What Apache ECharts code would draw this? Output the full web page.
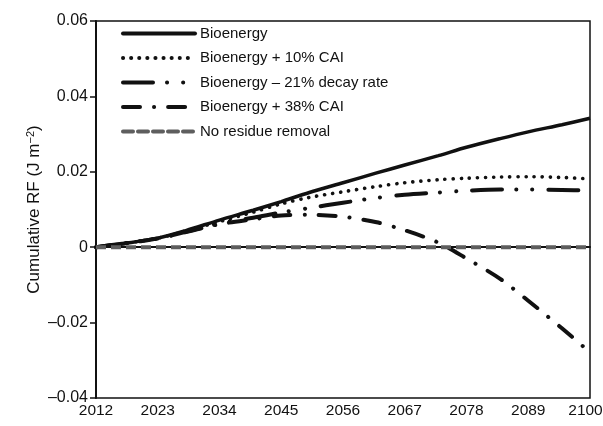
<!DOCTYPE html>
<html>
<head>
<meta charset="utf-8">
<script src="https://cdn.jsdelivr.net/npm/echarts@6/dist/echarts.min.js"></script>
<style>
html,body{margin:0;padding:0;background:#fff;}
#chart{width:603px;height:426px;}
</style>
</head>
<body>
<div id="chart"></div>
<script>
const years = [2012, 2017, 2023, 2028, 2034, 2040, 2045, 2050, 2056, 2062, 2067, 2073, 2078, 2084, 2089, 2095, 2100];
const bioenergy   = [0, 0.0010, 0.0024, 0.0044, 0.0072, 0.0098, 0.0121, 0.0145, 0.0171, 0.0197, 0.0218, 0.0243, 0.0265, 0.0288, 0.0306, 0.0325, 0.0342];
const cai10       = [0, 0.0010, 0.0024, 0.0043, 0.0068, 0.0093, 0.0115, 0.0132, 0.0147, 0.0161, 0.0171, 0.0179, 0.0183, 0.0186, 0.0187, 0.0185, 0.0181];
const decay21     = [0, 0.0010, 0.0023, 0.0041, 0.0063, 0.0078, 0.0092, 0.0104, 0.0118, 0.0131, 0.0139, 0.0145, 0.0150, 0.0153, 0.0153, 0.0152, 0.0150];
const cai38       = [0, 0.0010, 0.0023, 0.0040, 0.0061, 0.0074, 0.0084, 0.0086, 0.0081, 0.0066, 0.0045, 0.0012, -0.0030, -0.0084, -0.0142, -0.0215, -0.0279];
const noRemoval   = [0, 0, 0, 0, 0, 0, 0, 0, 0, 0, 0, 0, 0, 0, 0, 0, 0];
const seriesNames = ['Bioenergy', 'Bioenergy + 10% CAI', 'Bioenergy \u2013 21% decay rate', 'Bioenergy + 38% CAI', 'No residue removal'];
const startYear = 2012;
const xTickStep = 11;
const xSpan = 88;

const pts = arr => years.map((y, i) => [y - startYear, arr[i]]);
const FONT = 'Liberation Sans, Arial, sans-serif';

const chart = echarts.init(document.getElementById('chart'), null, {renderer: 'canvas'});
chart.setOption({
  animation: false,
  backgroundColor: '#fff',
  grid: {left: 96, right: 13, top: 21, bottom: 28, containLabel: false, outerBoundsMode: 'none', show: true, borderColor: '#111', borderWidth: 1.5, backgroundColor: 'transparent'},
  legend: {
    data: seriesNames,
    orient: 'vertical',
    left: 121,
    top: 26,
    padding: 0,
    itemWidth: 72,
    itemHeight: 16,
    itemGap: 9.5,
    itemStyle: {opacity: 0},
    lineStyle: {width: 4, cap: 'round'},
    textStyle: {fontFamily: FONT, fontSize: 15, color: '#111'}
  },
  xAxis: {
    type: 'value', min: 0, max: xSpan, interval: xTickStep,
    axisLine: {show: true, lineStyle: {color: '#111', width: 2}},
    axisTick: {show: false},
    splitLine: {show: false},
    axisLabel: {
      formatter: v => v === xSpan ? '{r|' + (v + startYear) + '}' : String(v + startYear),
      fontFamily: FONT, fontSize: 15.5, color: '#111', margin: 5,
      rich: {r: {fontFamily: FONT, fontSize: 15.5, color: '#111', padding: [0, 9, 0, 0]}}
    }
  },
  yAxis: {
    type: 'value', min: -0.04, max: 0.06, interval: 0.02,
    name: '{a|Cumulative RF (J m}{s|\u22122}{a|)}',
    nameLocation: 'middle', nameGap: 52, nameMoveOverlap: false,
    nameTextStyle: {rich: {a: {fontFamily: FONT, fontSize: 17, color: '#111'}, s: {fontFamily: FONT, fontSize: 11, color: '#111', verticalAlign: 'top', padding: [0, 0, 8, 0]}}},
    axisLine: {show: true, lineStyle: {color: '#111', width: 2}},
    axisTick: {show: true, length: 6, lineStyle: {color: '#111', width: 1.5}},
    splitLine: {show: false},
    axisLabel: {
      formatter: v => Math.abs(v) < 1e-9 ? '0' : (v < 0 ? '\u2013' + Math.abs(v).toFixed(2) : v.toFixed(2)),
      fontFamily: FONT, fontSize: 16, color: '#111', margin: 8
    }
  },
  series: [
    {name: seriesNames[0], type: 'line', data: pts(bioenergy), smooth: 0.3, symbol: 'none', z: 2,
     lineStyle: {color: '#111', width: 3.5},
     itemStyle: {color: '#111'},
     markLine: {silent: true, z: 1, symbol: 'none', label: {show: false}, lineStyle: {color: '#111', width: 1.5, type: 'solid'}, data: [{yAxis: 0}]}},
    {name: seriesNames[1], type: 'line', data: pts(cai10), smooth: 0.3, symbol: 'none', z: 3,
     lineStyle: {color: '#111', width: 3.6, type: [0.1, 8], cap: 'round'},
     itemStyle: {color: '#111'}},
    {name: seriesNames[2], type: 'line', data: pts(decay21), smooth: 0.3, symbol: 'none', z: 3,
     lineStyle: {color: '#111', width: 4, type: [30, 14, 0.1, 16, 0.1, 16], cap: 'round'},
     itemStyle: {color: '#111'}},
    {name: seriesNames[3], type: 'line', data: pts(cai38), smooth: 0.3, symbol: 'none', z: 3,
     lineStyle: {color: '#111', width: 4, type: [17, 14, 0.1, 14], cap: 'round'},
     itemStyle: {color: '#111'}},
    {name: seriesNames[4], type: 'line', data: pts(noRemoval), symbol: 'none', z: 4,
     lineStyle: {color: '#5e5e5e', width: 4, type: [10, 5]},
     itemStyle: {color: '#5e5e5e'}}
  ]
});
</script>
</body>
</html>
